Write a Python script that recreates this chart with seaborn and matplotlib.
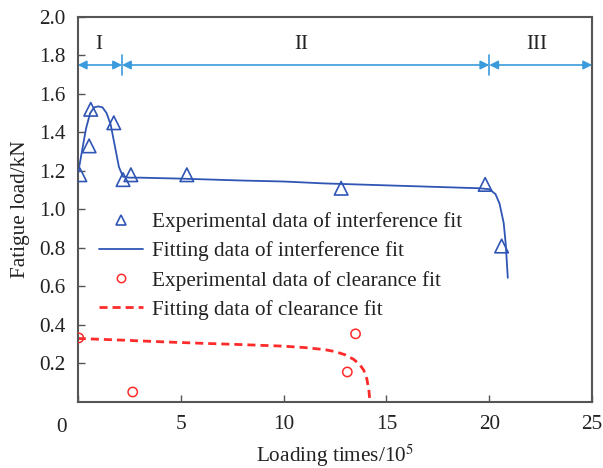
import numpy as np
import pandas as pd
import seaborn as sns
import matplotlib.pyplot as plt
from matplotlib.lines import Line2D

# experimental data, interference fit
inter_x = [0.1, 0.55, 0.63, 1.75, 2.2, 2.58, 5.3, 12.8, 19.8, 20.6]
inter_y = [1.18, 1.33, 1.52, 1.45, 1.155, 1.18, 1.18, 1.11, 1.13, 0.81]

# fitting curve, interference fit
inter_fit_x = [0, 0.2, 0.4, 0.6, 0.8, 1.0, 1.2, 1.4, 1.6, 1.8, 2.0, 2.2, 2.5, 3,
               5, 8, 10, 12, 15, 18, 19.5, 20.0, 20.3, 20.5, 20.7, 20.8, 20.9]
inter_fit_y = [1.18, 1.30, 1.42, 1.50, 1.53, 1.535, 1.53, 1.50, 1.44, 1.33, 1.22,
               1.17, 1.165, 1.165, 1.16, 1.15, 1.145, 1.135, 1.125, 1.115, 1.11,
               1.105, 1.08, 1.03, 0.93, 0.82, 0.645]

# experimental data, clearance fit
clear_x = [0.05, 2.67, 13.1, 13.5]
clear_y = [0.333, 0.052, 0.156, 0.354]

# fitting curve, clearance fit
clear_fit_x = [0, 2, 4, 6, 8, 10, 11, 12, 12.5, 13, 13.4, 13.7, 13.9, 14.05, 14.15, 14.2]
clear_fit_y = [0.33, 0.322, 0.313, 0.305, 0.298, 0.29, 0.283, 0.272, 0.262, 0.245,
               0.222, 0.195, 0.165, 0.12, 0.06, 0.0]

# stage boundaries and labels
stage_bounds = [0, 2.15, 20, 25]
stage_labels = ["I", "II", "III"]
stage_label_x = [1.0, 10.85, 22.3]

blue = "#2f55b5"
red = "#ff2b2b"
arrow_col = "#3a9bdc"
axis_col = "#555555"
txt_col = "#222222"
fs = 15.3

sns.set_style("ticks")
plt.rcParams['font.family'] = ['Liberation Serif', 'DejaVu Serif']
plt.rcParams['mathtext.fontset'] = 'stix'

fig = plt.figure(figsize=(6.03, 4.68), dpi=100)
ax = fig.add_axes([0.129, 0.141, 0.853, 0.823])

sns.lineplot(x=inter_fit_x, y=inter_fit_y, ax=ax, color=blue, lw=1.3,
             sort=False, estimator=None)
sns.lineplot(x=clear_fit_x, y=clear_fit_y, ax=ax, color=red, lw=2,
             sort=False, estimator=None, linestyle=(0, (2.9, 1.8)))
sns.scatterplot(x=inter_x, y=inter_y, ax=ax, marker="^", s=95,
                facecolor="none", edgecolor=blue, linewidth=1.2, zorder=3)
sns.scatterplot(x=clear_x, y=clear_y, ax=ax, marker="o", s=45,
                facecolor="none", edgecolor=red, linewidth=1.1, zorder=3)

# stage arrows
for i in range(len(stage_labels)):
    ax.annotate("", xy=(stage_bounds[i + 1], 1.75), xytext=(stage_bounds[i], 1.75),
                arrowprops=dict(arrowstyle="<|-|>", color=arrow_col, lw=1.2,
                                mutation_scale=13, shrinkA=0, shrinkB=0))
    ax.text(stage_label_x[i], 1.855, stage_labels[i], ha="center", va="center",
            fontsize=fs, color=txt_col)
for b in stage_bounds[1:3]:
    ax.plot([b, b], [1.70, 1.80], color=arrow_col, lw=1.2)

ax.set_xlim(0, 25)
ax.set_ylim(0, 2.0)
ax.set_xticks([0, 5, 10, 15, 20, 25])
ax.set_xticklabels(["", "5", "10", "15", "20", "25"])
ax.set_yticks([0.2, 0.4, 0.6, 0.8, 1.0, 1.2, 1.4, 1.6, 1.8, 2.0])
ax.set_yticklabels(["0.2", "0.4", "0.6", "0.8", "1.0", "1.2", "1.4", "1.6", "1.8", "2.0"])
ax.tick_params(direction="in", length=5, width=1, color=axis_col,
               labelsize=fs, labelcolor=txt_col, pad=9)
ax.text(-0.78, -0.13, "0", ha="center", va="center", fontsize=fs,
        color=txt_col, clip_on=False)
for sp in ax.spines.values():
    sp.set_visible(True)
    sp.set_color(axis_col)
    sp.set_linewidth(1.5)

ax.set_xlabel(r"Loading times/10$^5$", fontsize=fs, color=txt_col, labelpad=6)
ax.set_ylabel("Fatigue load/kN", fontsize=fs, color=txt_col, labelpad=6)

handles = [
    Line2D([], [], marker="^", ls="none", mfc="none", mec=blue, ms=7, mew=1.2),
    Line2D([], [], color=blue, lw=1.3),
    Line2D([], [], marker="o", ls="none", mfc="none", mec=red, ms=6, mew=1.1),
    Line2D([], [], color=red, lw=2, ls=(0, (2.9, 1.8))),
]
labels = ["Experimental data of interference fit", "Fitting data of interference fit",
          "Experimental data of clearance fit", "Fitting data of clearance fit"]
ax.legend(handles, labels, loc="upper left", bbox_to_anchor=(0.024, 0.515),
          borderaxespad=0, frameon=False, fontsize=fs, handlelength=2.1,
          handletextpad=0.4, labelspacing=0.44, labelcolor=txt_col)

fig.savefig("out.png", dpi=100)
